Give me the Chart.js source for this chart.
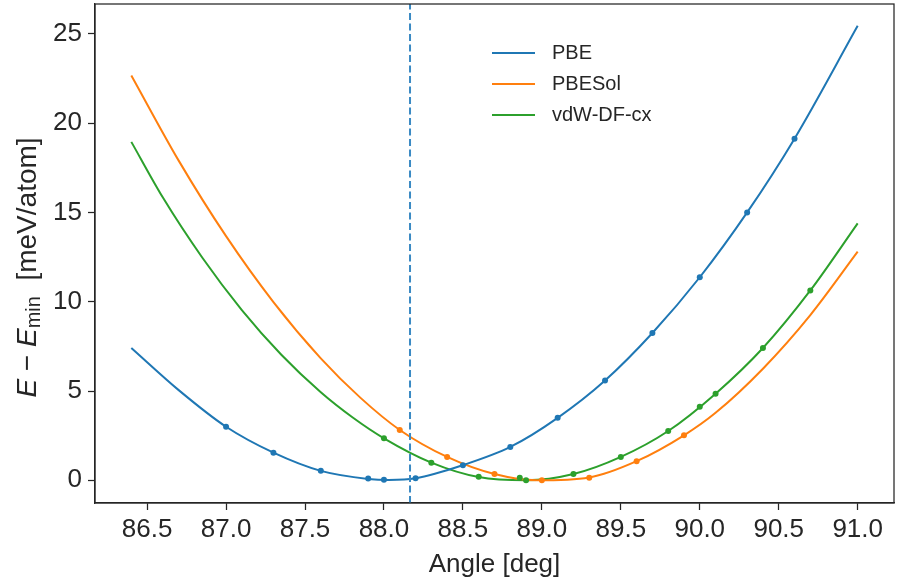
<!DOCTYPE html>
<html>
<head>
<meta charset="utf-8">
<script src="https://cdn.jsdelivr.net/npm/chart.js@4"></script>
<style>
html, body { margin: 0; padding: 0; background: #fff; }
</style>
</head>
<body>
<canvas id="myChart" width="898" height="586"></canvas>
<script>
// series names and colours
const seriesNames = ["PBE", "PBESol", "vdW-DF-cx"]
const colors = ["#1f77b4", "#ff7f0e", "#2ca02c"]

// fitted curves
const pbeFitX = [86.4, 86.7, 87.0, 87.3, 87.6, 87.9, 88.03, 88.2, 88.5, 88.8, 89.1, 89.4, 89.7, 90.0, 90.3, 90.6, 91.0]
const pbeFitY = [7.41, 5.05, 3.0, 1.55, 0.53, 0.08, 0.02, 0.11, 0.85, 1.87, 3.5, 5.59, 8.25, 11.37, 15.0, 19.13, 25.45]
const solFitX = [86.4, 86.7, 87.0, 87.3, 87.6, 87.85, 88.1, 88.4, 88.7, 88.97, 89.3, 89.6, 89.9, 90.1, 90.4, 90.7, 91.0]
const solFitY = [22.67, 17.9, 13.67, 9.98, 6.83, 4.63, 2.82, 1.31, 0.35, 0.0, 0.16, 1.07, 2.52, 3.78, 6.25, 9.25, 12.8]
const cxFitX = [86.4, 86.6, 86.85, 87.1, 87.35, 87.6, 87.8, 88.0, 88.3, 88.6, 88.9, 89.2, 89.5, 89.8, 90.1, 90.4, 90.7, 91.0]
const cxFitY = [18.95, 15.83, 12.46, 9.53, 7.03, 4.93, 3.53, 2.35, 0.99, 0.18, 0.0, 0.35, 1.31, 2.76, 4.85, 7.41, 10.63, 14.39]

// calculated points
const pbeX = [87.0, 87.3, 87.6, 87.9, 88.0, 88.2, 88.5, 88.8, 89.1, 89.4, 89.7, 90.0, 90.3, 90.6]
const pbeY = [3.0, 1.55, 0.53, 0.1, 0.03, 0.12, 0.85, 1.87, 3.5, 5.59, 8.25, 11.37, 15.0, 19.13]
const solX = [88.1, 88.4, 88.7, 89.0, 89.3, 89.6, 89.9]
const solY = [2.82, 1.31, 0.36, 0.0, 0.15, 1.07, 2.52]
const cxX = [88.0, 88.3, 88.6, 88.86, 88.9, 89.2, 89.5, 89.8, 90.0, 90.1, 90.4, 90.7]
const cxY = [2.35, 0.99, 0.2, 0.14, 0.0, 0.35, 1.31, 2.76, 4.12, 4.85, 7.41, 10.63]

// reference angle (dashed line)
const refAngle = 88.165

const xTicks = [86.5, 87.0, 87.5, 88.0, 88.5, 89.0, 89.5, 90.0, 90.5, 91.0]
const yTicks = [0, 5, 10, 15, 20, 25]
const xMin = 86.17, xMax = 91.23
const yMin = -1.27, yMax = 26.67

const textColor = "#262626"
const family = "'Liberation Sans', Arial, sans-serif"

const pts = (xs, ys) => xs.map((x, i) => ({x: x, y: ys[i]}))

const fits = [[pbeFitX, pbeFitY], [solFitX, solFitY], [cxFitX, cxFitY]]
const marks = [[pbeX, pbeY], [solX, solY], [cxX, cxY]]

const datasets = []
fits.forEach((f, i) => {
    datasets.push({
        label: seriesNames[i],
        data: pts(f[0], f[1]),
        showLine: true,
        borderColor: colors[i],
        borderWidth: 2,
        pointRadius: 0,
        cubicInterpolationMode: "monotone",
        order: 2
    })
})
marks.forEach((m, i) => {
    datasets.push({
        label: seriesNames[i] + " points",
        data: pts(m[0], m[1]),
        showLine: false,
        backgroundColor: colors[i],
        borderColor: colors[i],
        pointRadius: 3,
        pointBorderWidth: 0,
        order: 1
    })
})
datasets.push({
    label: "ref",
    data: [{x: refAngle, y: yMin}, {x: refAngle, y: yMax}],
    showLine: true,
    borderColor: "#3a8ac4",
    borderWidth: 2,
    borderDash: [7, 3.5],
    pointRadius: 0,
    order: 0
})

// frame around the plot
const framePlugin = {
    id: "frame",
    afterDraw(chart) {
        const {ctx, chartArea: a} = chart
        ctx.save()
        ctx.strokeStyle = textColor
        ctx.lineWidth = 1.25
        ctx.strokeRect(a.left, a.top, a.right - a.left, a.bottom - a.top)
        ctx.restore()
    }
}

// legend inside the axes
const legendPlugin = {
    id: "innerLegend",
    afterDraw(chart) {
        const ctx = chart.ctx
        ctx.save()
        ctx.font = "20px " + family
        ctx.textBaseline = "middle"
        seriesNames.forEach((name, i) => {
            const y = 53 + i * 31
            ctx.strokeStyle = colors[i]
            ctx.lineWidth = 2
            ctx.beginPath()
            ctx.moveTo(492, y)
            ctx.lineTo(535, y)
            ctx.stroke()
            ctx.fillStyle = textColor
            ctx.fillText(name, 552, y)
        })
        ctx.restore()
    }
}

// y axis title with italic E and subscript "min"
const yTitlePlugin = {
    id: "yTitle",
    afterDraw(chart) {
        const ctx = chart.ctx
        const a = chart.chartArea
        const size = 28
        const parts = [
            {t: "E", f: "italic " + size + "px " + family, dy: 0},
            {t: " \u2212 ", f: size + "px " + family, dy: 0},
            {t: "E", f: "italic " + size + "px " + family, dy: 0},
            {t: "min", f: Math.round(size * 0.72) + "px " + family, dy: 6},
            {t: "  [meV/atom]", f: size + "px " + family, dy: 0}
        ]
        ctx.save()
        let total = 0
        parts.forEach(p => { ctx.font = p.f; p.w = ctx.measureText(p.t).width; total += p.w })
        ctx.translate(28, (a.top + a.bottom) / 2 + 14)
        ctx.rotate(-Math.PI / 2)
        ctx.fillStyle = textColor
        ctx.textBaseline = "middle"
        let x = -total / 2
        parts.forEach(p => {
            ctx.font = p.f
            ctx.fillText(p.t, x, p.dy)
            x += p.w
        })
        ctx.restore()
    }
}

const axisCommon = {
    type: "linear",
    grid: {drawOnChartArea: false, drawTicks: true, tickLength: 7, tickColor: textColor, tickWidth: 1.25},
    border: {display: true, color: textColor, width: 1.25}
}

const config = {
    type: "scatter",
    data: {datasets},
    options: {
        responsive: false,
        animation: false,
        devicePixelRatio: 1,
        layout: {padding: {top: 1, right: 3, left: 0, bottom: 0}},
        plugins: {legend: {display: false}, tooltip: {enabled: false}},
        scales: {
            x: {
                ...axisCommon,
                min: xMin,
                max: xMax,
                afterBuildTicks: s => { s.ticks = xTicks.map(v => ({value: v})) },
                afterFit: s => { s.height = 83; s.paddingLeft = 0; s.paddingRight = 0 },
                ticks: {
                    color: textColor,
                    font: {family: family, size: 26},
                    padding: 4,
                    maxRotation: 0,
                    autoSkip: false,
                    callback: v => Number(v).toFixed(1)
                },
                title: {
                    display: true,
                    text: "Angle [deg]",
                    color: textColor,
                    font: {family: family, size: 26},
                    padding: {top: 0, bottom: 6}
                }
            },
            y: {
                ...axisCommon,
                min: yMin,
                max: yMax,
                afterBuildTicks: s => { s.ticks = yTicks.map(v => ({value: v})) },
                afterFit: s => { s.width = 95; s.paddingTop = 0; s.paddingBottom = 0 },
                ticks: {
                    color: textColor,
                    font: {family: family, size: 26},
                    padding: 6,
                    autoSkip: false,
                    callback: v => String(v)
                }
            }
        }
    },
    plugins: [framePlugin, legendPlugin, yTitlePlugin]
}

const chart = document.getElementById("myChart")
const myChart = new Chart(chart, config)
</script>
</body>
</html>
